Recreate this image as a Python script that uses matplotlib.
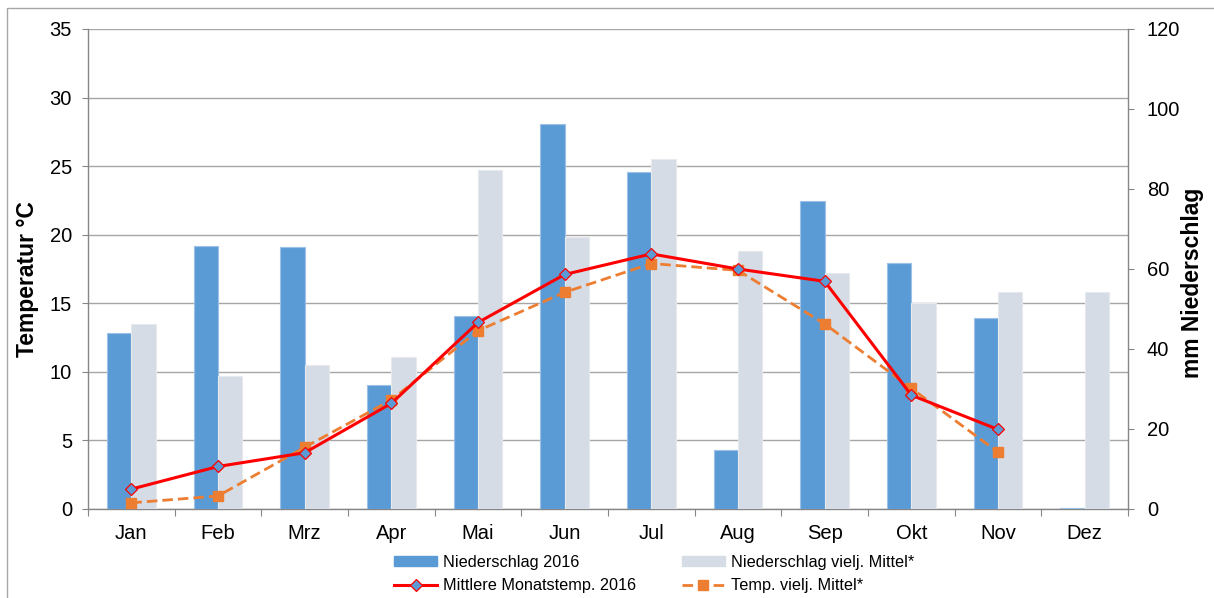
import matplotlib
matplotlib.use("Agg")
import matplotlib.pyplot as plt
from matplotlib.patches import Rectangle
from matplotlib.lines import Line2D
import numpy as np

plt.rcParams['font.family'] = ['Liberation Sans', 'DejaVu Sans']

months = ["Jan", "Feb", "Mrz", "Apr", "Mai", "Jun", "Jul", "Aug", "Sep", "Okt", "Nov", "Dez"]
precip_2016 = [43.9, 65.8, 65.5, 30.9, 48.3, 96.3, 84.3, 14.7, 77.1, 61.4, 47.7, 0.3]
precip_mean = [46.3, 33.3, 36.0, 38.0, 84.7, 67.9, 87.4, 64.5, 59.0, 51.4, 54.2, 54.2]
temp_2016 = [1.45, 3.1, 4.1, 7.7, 13.6, 17.1, 18.6, 17.5, 16.6, 8.3, 5.8]
temp_mean = [0.45, 0.95, 4.5, 7.95, 13.0, 15.8, 17.9, 17.4, 13.5, 8.8, 4.15]

left_ticks = [0, 5, 10, 15, 20, 25, 30, 35]
right_ticks = [0, 20, 40, 60, 80, 100, 120]

W, H = 1214, 598
fig = plt.figure(figsize=(W / 100, H / 100), dpi=100)
fig.patches.append(Rectangle((7 / W, -0.1), 1.2, 1 - 8 / H + 0.1, transform=fig.transFigure,
                             fill=False, edgecolor='#a6a6a6', linewidth=1.0))

pos = [88 / W, 1 - 509 / H, (1128 - 88) / W, (509 - 29) / H]
ax = fig.add_axes(pos)
ax2 = ax.twinx()
ax3 = ax.twinx()

x = np.arange(len(months))
bw = 0.28
ax2.bar(x - bw / 2, precip_2016, width=bw, color='#5b9bd5', edgecolor='#9cc0e6', linewidth=0.8, zorder=2)
ax2.bar(x + bw / 2, precip_mean, width=bw, color='#d6dce5', edgecolor='#e6e9ee', linewidth=0.8, zorder=2)

red_style = dict(color='#ff0000', linewidth=2.2, marker='D', markersize=6,
                 markerfacecolor='#5b9bd5', markeredgecolor='#ff0000', markeredgewidth=0.9)
orange_style = dict(color='#ed7d31', linewidth=2.0, linestyle=(0, (3.8, 1.8)), marker='s',
                    markersize=7.5, markerfacecolor='#ed7d31', markeredgecolor='#ed7d31')

xt = np.arange(len(temp_2016))
ax3.plot(xt, temp_2016, zorder=4, **red_style)
ax3.plot(xt, temp_mean, zorder=3, **orange_style)

for a in (ax, ax3):
    a.set_ylim(0, 35)
ax2.set_ylim(0, 120)
for a in (ax, ax2, ax3):
    a.set_xlim(-0.5, len(months) - 0.5)

fs = 14.5
# left axis
ax.set_yticks(left_ticks)
ax.tick_params(axis='y', which='major', length=4.5, width=0.8, color='#868686', labelsize=fs, pad=7)
ax.yaxis.grid(True, color='#a6a6a6', linewidth=1.0)
ax.set_axisbelow(True)
ax.set_ylabel("Temperatur °C", fontsize=16.5, fontweight='bold')
ax.yaxis.label.set_va('center')
ax.yaxis.set_label_coords((28 - 88) / 1040, (509 - 279) / 480)

# x axis
ax.set_xticks(x)
ax.set_xticklabels(months)
ax.set_xticks(np.arange(-0.5, len(months), 1.0), minor=True)
ax.tick_params(axis='x', which='major', length=0, labelsize=fs, pad=10.5)
ax.tick_params(axis='x', which='minor', length=5, width=0.8, color='#868686')

# right axis
ax2.set_yticks(right_ticks)
ax2.tick_params(axis='y', length=4.5, width=0.8, color='#868686', labelsize=fs, pad=9)
ax2.set_ylabel("mm Niederschlag", fontsize=16.5, fontweight='bold')
ax2.yaxis.label.set_va('center')
ax2.yaxis.set_label_coords((1192 - 88) / 1040, (509 - 283) / 480)
ax2.tick_params(axis='x', length=0, labelbottom=False)

ax3.set_yticks([])
ax3.tick_params(axis='x', length=0, labelbottom=False)

for a in (ax, ax2, ax3):
    for s in a.spines.values():
        s.set_visible(False)
ax.spines['left'].set_visible(True)
ax.spines['bottom'].set_visible(True)
ax2.spines['right'].set_visible(True)
for s in (ax.spines['left'], ax.spines['bottom'], ax2.spines['right']):
    s.set_color('#868686')
    s.set_linewidth(1.0)

handles = [
    Rectangle((0, 0), 1, 1, color='#5b9bd5'),
    Line2D([], [], **red_style),
    Rectangle((0, 0), 1, 1, color='#d6dce5'),
    Line2D([], [], **orange_style),
]
labels = ["Niederschlag 2016", "Mittlere Monatstemp. 2016", "Niederschlag vielj. Mittel*", "Temp. vielj. Mittel*"]
fig.legend(handles, labels, ncol=2, loc='center left', bbox_to_anchor=(386 / W, 1 - 574 / H),
           frameon=False, fontsize=11.7, handlelength=2.65, handleheight=0.55, columnspacing=2.8,
           handletextpad=0.37, labelspacing=0.5, borderpad=0)

fig.savefig("out.png", dpi=100)
